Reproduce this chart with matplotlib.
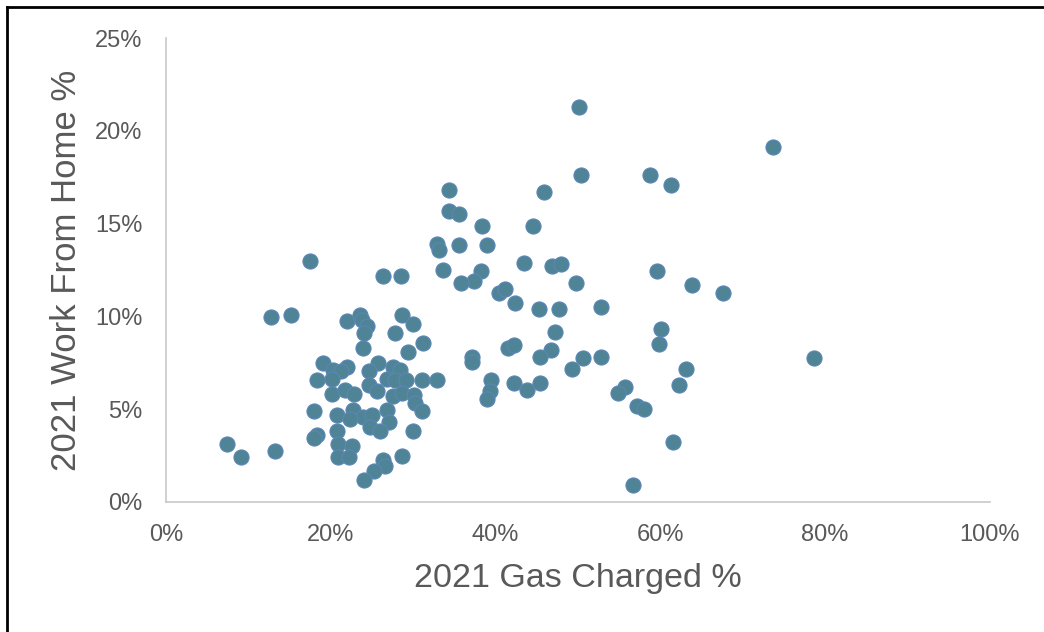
import matplotlib
matplotlib.use("Agg")
import matplotlib.pyplot as plt
from matplotlib.lines import Line2D
from matplotlib.ticker import PercentFormatter

plt.rcParams['font.family'] = ['Liberation Sans', 'DejaVu Sans']

# 2021 gas charged % vs 2021 work from home %
gas_pct = [
    50.1, 73.7, 50.4, 58.8, 61.25, 34.3, 45.9, 34.3, 35.6, 38.4,
    44.6, 32.85, 33.2, 35.6, 39.0, 43.45, 46.9, 48.0, 59.6, 33.65,
    38.2, 37.4, 35.8, 49.8, 63.8, 67.6, 40.45, 41.1, 42.4, 45.3,
    47.7, 52.8, 60.1, 47.2, 59.9, 41.55, 42.2, 46.7, 45.4, 50.65,
    52.8, 78.7, 37.1, 37.1, 49.3, 63.1, 62.3, 39.5, 42.2, 43.8,
    45.4, 39.3, 39.0, 55.7, 54.85, 57.2, 58.05, 61.5, 56.7,
    17.5, 26.3, 28.5, 12.8, 15.2, 22.0, 23.6, 23.8, 24.4, 24.05,
    28.7, 30.0, 27.8, 31.25, 23.9, 29.4, 19.1, 20.3, 22.0, 21.3,
    25.7, 24.65, 27.6, 28.45, 18.3, 20.15, 24.6, 25.65, 26.8, 27.8,
    29.15, 31.05, 32.9, 20.15, 21.75, 22.85, 27.6, 28.7, 30.1, 30.25,
    31.05, 18.0, 20.7, 22.7, 23.9, 24.95, 26.8, 27.05, 24.75, 26.0,
    20.7, 22.3, 29.95, 18.3, 18.0, 7.45, 9.05, 13.2, 20.9, 22.55,
    20.9, 22.25, 26.3, 26.6, 25.2, 24.05, 28.65,
]
wfh_pct = [
    21.3, 19.15, 17.6, 17.6, 17.1, 16.8, 16.7, 15.7, 15.5, 14.9,
    14.9, 13.9, 13.6, 13.85, 13.85, 12.9, 12.7, 12.8, 12.45, 12.5,
    12.45, 11.9, 11.8, 11.8, 11.7, 11.25, 11.25, 11.5, 10.75, 10.4,
    10.4, 10.5, 9.3, 9.15, 8.5, 8.3, 8.45, 8.2, 7.8, 7.75,
    7.8, 7.75, 7.8, 7.55, 7.15, 7.15, 6.3, 6.6, 6.4, 6.05,
    6.4, 6.0, 5.55, 6.2, 5.85, 5.15, 5.0, 3.25, 0.9,
    13.0, 12.2, 12.2, 9.95, 10.1, 9.75, 10.1, 9.8, 9.5, 9.1,
    10.1, 9.6, 9.1, 8.55, 8.3, 8.1, 7.5, 7.1, 7.3, 7.05,
    7.5, 7.05, 7.3, 7.1, 6.6, 6.65, 6.3, 6.0, 6.65, 6.6,
    6.6, 6.6, 6.6, 5.8, 6.05, 5.8, 5.7, 5.85, 5.75, 5.35,
    4.9, 4.9, 4.7, 4.95, 4.6, 4.7, 4.95, 4.3, 4.05, 3.8,
    3.85, 4.45, 3.85, 3.6, 3.45, 3.15, 2.4, 2.75, 3.1, 3.0,
    2.45, 2.45, 2.25, 1.95, 1.65, 1.2, 2.5,
]
x_ticks = [0, 20, 40, 60, 80, 100]
y_ticks = [0, 5, 10, 15, 20, 25]

text_grey = '#595959'

fig = plt.figure(figsize=(10.44, 6.32), dpi=100)
ax = fig.add_axes([0.159, 0.2057, 0.789, 0.734])

ax.scatter(gas_pct, wfh_pct, s=118, facecolor='#4f8496', edgecolor='#5b86b5',
           linewidth=0.8, zorder=3)

ax.set_xlim(0, 100)
ax.set_ylim(0, 25)
ax.set_xticks(x_ticks)
ax.set_yticks(y_ticks)
ax.xaxis.set_major_formatter(PercentFormatter(decimals=0))
ax.yaxis.set_major_formatter(PercentFormatter(decimals=0))
ax.tick_params(axis='both', length=0, labelsize=17, labelcolor=text_grey)
ax.tick_params(axis='x', pad=16)
ax.tick_params(axis='y', pad=17)

for side in ['top', 'right']:
    ax.spines[side].set_visible(False)
for side in ['left', 'bottom']:
    ax.spines[side].set_color('#c8c8c8')
    ax.spines[side].set_linewidth(1.2)

ax.set_xlabel('2021 Gas Charged %', fontsize=24.5, color=text_grey, labelpad=12)
ax.set_ylabel('2021 Work From Home %', fontsize=25, color=text_grey, labelpad=9)

# black frame on the left and top edges of the picture
fig.add_artist(Line2D([0.0067, 0.0067], [0, 0.989], color='black', lw=2, transform=fig.transFigure))
fig.add_artist(Line2D([0.0067, 1.0], [0.989, 0.989], color='black', lw=2, transform=fig.transFigure))

fig.savefig('out.png', dpi=100)
